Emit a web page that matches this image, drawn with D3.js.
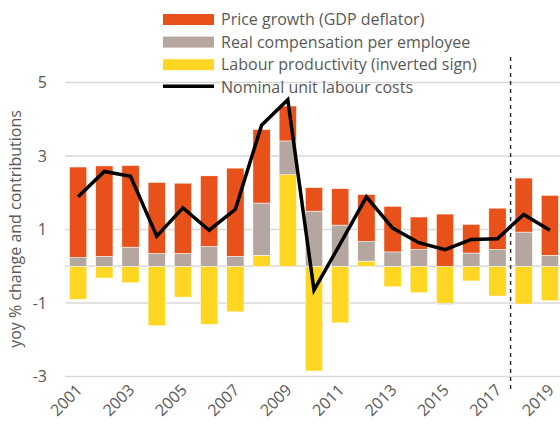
<!DOCTYPE html>
<meta charset="utf-8">
<style>
html, body {
  margin: 0;
  overflow: hidden;
  background: #fff;
}
text {
  font-family: "Open Sans", sans-serif;
  fill: #595959;
  font-size: 16px;
}
</style>
<title>Unit labour costs decomposition</title>
<body>
<script src="https://d3js.org/d3.v7.min.js"></script>
<script>
var years = ["2001","2002","2003","2004","2005","2006","2007","2008","2009","2010",
             "2011","2012","2013","2014","2015","2016","2017","2018","2019"];
var priceGrowth  = [2.46, 2.46, 2.22, 1.93, 1.91, 1.92, 2.40, 2.00, 0.95, 0.64,
                    0.99, 1.27, 1.24, 0.88, 1.42, 0.78, 1.12, 1.47, 1.63];
var realComp     = [0.24, 0.27, 0.52, 0.35, 0.35, 0.54, 0.27, 1.42, 0.92, 1.50,
                    1.12, 0.54, 0.39, 0.46, -0.03, 0.36, 0.46, 0.93, 0.30];
var productivity = [-0.90, -0.32, -0.45, -1.62, -0.84, -1.58, -1.24, 0.30, 2.49, -2.85,
                    -1.54, 0.14, -0.56, -0.72, -1.01, -0.40, -0.81, -1.03, -0.94];
var ulc          = [1.89, 2.58, 2.45, 0.82, 1.59, 0.98, 1.55, 3.84, 4.53, -0.65,
                    0.61, 1.89, 1.04, 0.64, 0.45, 0.73, 0.75, 1.41, 0.98];
var yTicks = [5, 3, 1, -1, -3];
var xTickLabels = ["2001","2003","2005","2007","2009","2011","2013","2015","2017","2019"];
var forecastStart = "2018";

var seriesNames = ["Price growth (GDP deflator)", "Real compensation per employee",
                   "Labour productivity (inverted sign)", "Nominal unit labour costs"];

var width = 560, height = 430;

var colors = { price: "#E8521A", comp: "#B5A79F", prod: "#FFD622" };

var svg = d3.select("body").append("svg")
    .attr("width", width)
    .attr("height", height);

var x = d3.scaleBand()
    .domain(years)
    .range([65, 563])
    .paddingInner(0.34)
    .paddingOuter(0.17);

var y = d3.scaleLinear()
    .domain([-3, 5])
    .range([376.5, 82.5]);

// gridlines
svg.append("g").selectAll("line")
  .data(yTicks.concat([0]))
  .enter().append("line")
    .attr("x1", 65)
    .attr("x2", width)
    .attr("y1", function(d) { return y(d); })
    .attr("y2", function(d) { return y(d); })
    .attr("stroke", "#d9d9d9")
    .attr("stroke-width", 1.5);

// y tick labels
svg.append("g").selectAll("text")
  .data(yTicks)
  .enter().append("text")
    .attr("x", 47)
    .attr("y", function(d) { return y(d); })
    .attr("dy", "0.36em")
    .attr("text-anchor", "end")
    .text(function(d) { return d; });

svg.append("text")
    .attr("transform", "translate(21,229) rotate(-90)")
    .attr("text-anchor", "middle")
    .text("yoy % change and contributions");

// stacked bars
var rows = years.map(function(yr, i) {
  return { year: yr, prod: productivity[i], comp: realComp[i], price: priceGrowth[i] };
});

var stack = d3.stack()
    .keys(["prod", "comp", "price"])
    .offset(d3.stackOffsetDiverging);

svg.append("g").selectAll("g")
  .data(stack(rows))
  .enter().append("g")
    .attr("fill", function(s) { return colors[s.key]; })
  .selectAll("rect")
  .data(function(s) { return s; })
  .enter().append("rect")
    .attr("x", function(d) { return x(d.data.year); })
    .attr("width", x.bandwidth())
    .attr("y", function(d) { return y(Math.max(d[0], d[1])); })
    .attr("height", function(d) { return Math.abs(y(d[0]) - y(d[1])); })
    .attr("stroke", "#fff")
    .attr("stroke-width", 0.5);

// forecast separator
var sepX = (x("2017") + x.bandwidth() + x(forecastStart)) / 2;
svg.append("line")
    .attr("x1", sepX).attr("x2", sepX)
    .attr("y1", 57).attr("y2", 390)
    .attr("stroke", "#333")
    .attr("stroke-width", 1.5)
    .attr("stroke-dasharray", "4,4");

// ULC line
var line = d3.line()
    .x(function(d, i) { return x(years[i]) + x.bandwidth() / 2; })
    .y(function(d) { return y(d); });

svg.append("path")
    .datum(ulc)
    .attr("d", line)
    .attr("fill", "none")
    .attr("stroke", "#000")
    .attr("stroke-width", 3.5);

// x labels
svg.append("g").selectAll("text")
  .data(xTickLabels)
  .enter().append("text")
    .attr("transform", function(d) {
      return "translate(" + (x(d) + x.bandwidth() / 2 + 5) + ",391) rotate(-45)";
    })
    .attr("text-anchor", "end")
    .text(function(d) { return d; });

// legend
var legend = svg.append("g").attr("transform", "translate(163,0)");
var legendColors = [colors.price, colors.comp, colors.prod, null];
seriesNames.forEach(function(name, i) {
  var cy = 19.5 + i * 22.6;
  if (legendColors[i]) {
    legend.append("rect")
      .attr("x", 0).attr("y", cy - 5.5)
      .attr("width", 51).attr("height", 11)
      .attr("fill", legendColors[i]);
  } else {
    legend.append("line")
      .attr("x1", 0).attr("x2", 51)
      .attr("y1", cy - 1).attr("y2", cy - 1)
      .attr("stroke", "#000")
      .attr("stroke-width", 3.5);
  }
  legend.append("text")
    .attr("x", 58)
    .attr("y", cy)
    .attr("dy", "0.36em")
    .text(name);
});
</script>
</body>
